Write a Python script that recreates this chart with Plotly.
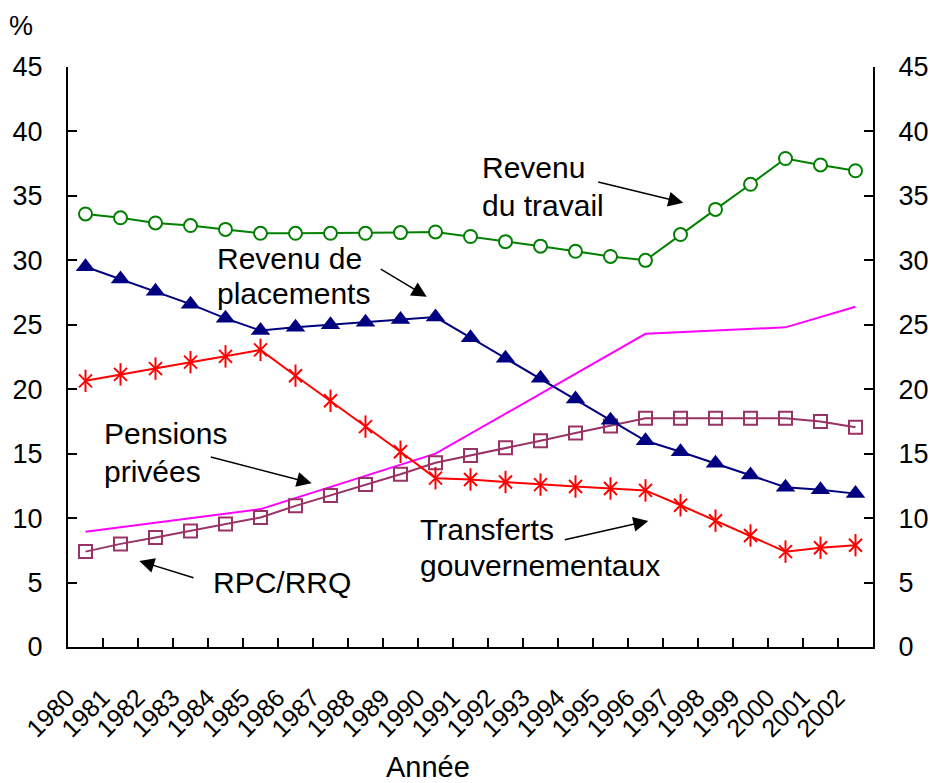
import plotly.graph_objects as go

years = [str(y) for y in range(1980, 2003)]

revenu_travail = [33.6, 33.3, 32.9, 32.7, 32.4, 32.1, 32.1, 32.1, 32.1, 32.15, 32.2, 31.85,
                  31.45, 31.1, 30.7, 30.3, 30.0, 32.0, 33.95, 35.9, 37.9, 37.4, 36.95]
revenu_placements = [29.5, 28.55, 27.6, 26.6, 25.5, 24.55, 24.8, 25.0, 25.2, 25.4, 25.6, 24.0,
                     22.4, 20.85, 19.25, 17.6, 16.0, 15.15, 14.25, 13.35, 12.4, 12.2, 11.9]
transferts = [20.65, 21.15, 21.6, 22.1, 22.55, 23.05, 21.05, 19.1, 17.1, 15.15, 13.1, 13.0,
              12.8, 12.6, 12.45, 12.3, 12.15, 11.0, 9.8, 8.65, 7.4, 7.7, 7.9]
rpc_rrq = [7.4, 8.0, 8.5, 9.0, 9.55, 10.05, 10.95, 11.75, 12.6, 13.4, 14.3, 14.85,
           15.45, 16.0, 16.6, 17.15, 17.75, 17.75, 17.75, 17.75, 17.75, 17.5, 17.05]
# Pensions privées: only the vertices visible in the picture (straight segments between them)
pensions_privees = [8.95, None, None, None, None, 10.7, None, None, None, None, 15.0, None,
                    None, None, None, None, 24.3, None, None, None, 24.8, None, 26.4]

y_ticks = [0, 5, 10, 15, 20, 25, 30, 35, 40, 45]

FONT = "Liberation Sans, Arial, sans-serif"
FS = 27      # y tick labels
FX = 25      # x tick labels
FA = 30      # annotation text

# plot area in pixels
L, R, T, B = 68, 873, 67, 647


def px(x):
    return (x - L) / (R - L)


def py(y):
    return (B - y) / (B - T)


fig = go.Figure()

fig.add_trace(go.Scatter(x=years, y=pensions_privees, mode="lines", connectgaps=True,
                         line=dict(color="#FF00FF", width=2)))
fig.add_trace(go.Scatter(x=years, y=rpc_rrq, mode="lines+markers",
                         line=dict(color="#993366", width=2),
                         marker=dict(symbol="square-open", size=13, color="#993366",
                                     line=dict(width=2, color="#993366"))))
fig.add_trace(go.Scatter(x=years, y=transferts, mode="lines+markers",
                         line=dict(color="#FF0000", width=2),
                         marker=dict(symbol="x-thin-open", size=13, color="#FF0000",
                                     line=dict(width=2, color="#FF0000"))))
fig.add_trace(go.Scatter(x=years, y=transferts, mode="markers",
                         marker=dict(symbol="line-ns-open", size=16, color="#FF0000",
                                     line=dict(width=2, color="#FF0000"))))
fig.add_trace(go.Scatter(x=years, y=revenu_placements, mode="lines+markers",
                         line=dict(color="#000080", width=2),
                         marker=dict(symbol="triangle-up", size=17, color="#000080")))
fig.add_trace(go.Scatter(x=years, y=revenu_travail, mode="lines+markers",
                         line=dict(color="#008000", width=2),
                         marker=dict(symbol="circle", size=13, color="white",
                                     line=dict(width=2, color="#008000"))))

texts = [
    ("Revenu", 480, 167),
    ("du travail", 480, 205),
    ("Revenu de", 215, 258),
    ("placements", 215, 293),
    ("Pensions", 102, 433),
    ("privées", 102, 471),
    ("RPC/RRQ", 211, 582),
    ("Transferts", 418, 529),
    ("gouvernementaux", 418, 565),
]
annotations = []
for t, x, y in texts:
    annotations.append(dict(text=t, x=px(x), y=py(y), xref="paper", yref="paper",
                            xanchor="left", yanchor="middle", showarrow=False,
                            font=dict(family=FONT, size=FA, color="black")))

arrows = [
    ((596.7, 181.7), (683.3, 202.7)),
    ((379.3, 268.3), (426.7, 296.7)),
    ((209.3, 456.7), (311.7, 483.3)),
    ((195.0, 578.3), (139.3, 561.0)),
    ((563.3, 540.0), (648.3, 521.0)),
]
for (tx, ty), (hx, hy) in arrows:
    annotations.append(dict(text="", x=px(hx), y=py(hy), xref="paper", yref="paper",
                            ax=tx - hx, ay=ty - hy, axref="pixel", ayref="pixel",
                            showarrow=True, arrowhead=2, arrowsize=2.0, arrowwidth=1.5,
                            arrowcolor="black", standoff=0))

annotations.append(dict(text="%", x=px(21), y=py(26), xref="paper", yref="paper",
                        xanchor="center", yanchor="middle", showarrow=False,
                        font=dict(family=FONT, size=FS, color="black")))
annotations.append(dict(text="Année", x=px(428), y=py(767), xref="paper", yref="paper",
                        xanchor="center", yanchor="middle", showarrow=False,
                        font=dict(family=FONT, size=29, color="black")))

axis_common = dict(range=[0, 45], tickvals=y_ticks, ticktext=[str(v) for v in y_ticks],
                   showgrid=False, zeroline=False, showline=True, linecolor="black",
                   linewidth=2, ticks="inside", ticklen=9, tickwidth=2, tickcolor="black",
                   tickfont=dict(family=FONT, size=FS, color="black"), ticklabelstandoff=18,
                   automargin=False)

fig.update_layout(
    width=932, height=783,
    margin=dict(l=L, r=932 - R, t=T, b=783 - B, autoexpand=False),
    paper_bgcolor="white", plot_bgcolor="white",
    showlegend=False,
    font=dict(family=FONT, size=FS, color="black"),
    xaxis=dict(type="category", range=[-0.5, 22.5], tickson="boundaries",
               showgrid=False, zeroline=False, showline=True, linecolor="black",
               linewidth=2, ticks="inside", ticklen=9, tickwidth=2, tickcolor="black",
               tickangle=-45, tickfont=dict(family=FONT, size=FX, color="black"),
               ticklabelstandoff=24, ticklabelshift=-18, automargin=False),
    yaxis=dict(**axis_common, side="left"),
    yaxis2=dict(**axis_common, side="right", overlaying="y", matches="y"),
    annotations=annotations,
)

fig.add_trace(go.Scatter(x=years, y=revenu_travail, yaxis="y2", mode="markers",
                         marker=dict(opacity=0), hoverinfo="skip", showlegend=False))

fig.write_html("out.html", config={"displayModeBar": False},
               post_script="document.body.style.margin='0';"
                           "document.body.style.overflow='hidden';")
